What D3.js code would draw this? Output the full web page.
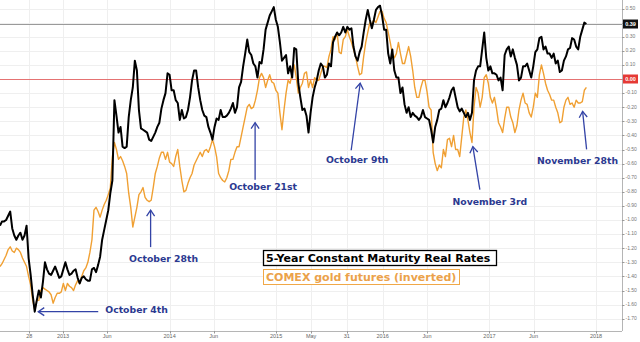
<!DOCTYPE html>
<html lang="en">
<head>
<meta charset="UTF-8">
<title>5-Year Real Rates vs COMEX Gold</title>
<script src="https://d3js.org/d3.v7.min.js"></script>
<style>
  body { margin: 0; background: #fff; }
  svg { display: block; font-family: "DejaVu Sans", Verdana, sans-serif; }
  .axis text { font-family: "Liberation Sans", Arial, sans-serif; }
</style>
</head>
<body>
<svg></svg>
<script>
// weekly observations, first week ends 2012-05-30
const startDate = new Date(2012, 4, 30);

// 5-year constant maturity real rate (%)
const realRates = [
  -1.04,-1.01,-1.01,-1.00,-0.97,-0.94,-1.06,-1.11,-1.14,-1.11,
  -1.09,-1.14,-1.11,-1.04,-1.27,-1.39,-1.53,-1.65,-1.57,-1.50,
  -1.55,-1.44,-1.30,-1.35,-1.38,-1.39,-1.36,-1.33,-1.37,-1.41,
  -1.40,-1.35,-1.30,-1.35,-1.39,-1.38,-1.36,-1.35,-1.41,-1.45,
  -1.41,-1.40,-1.42,-1.43,-1.43,-1.35,-1.34,-1.37,-1.32,-1.26,
  -1.14,-1.07,-1.00,-0.93,-0.81,-0.72,-0.15,-0.26,-0.38,-0.34,
  -0.48,-0.49,-0.48,-0.27,-0.15,-0.06,0.13,0.06,-0.22,-0.35,
  -0.36,-0.37,-0.38,-0.43,-0.44,-0.41,-0.38,-0.34,-0.31,-0.21,
  -0.15,-0.10,0.04,0.03,-0.08,-0.08,-0.15,-0.17,-0.29,-0.22,
  -0.28,-0.27,-0.22,-0.13,-0.01,0.06,0.06,-0.06,-0.15,-0.22,
  -0.26,-0.27,-0.34,-0.38,-0.43,-0.34,-0.28,-0.29,-0.22,-0.27,
  -0.27,-0.26,-0.24,-0.21,-0.17,-0.24,-0.20,-0.06,-0.02,0.09,
  0.18,0.28,0.19,0.17,0.11,0.09,0.01,0.12,0.11,0.21,
  0.35,0.40,0.45,0.48,0.51,0.42,0.37,0.26,0.13,0.15,
  0.17,0.04,0.09,0.01,0.22,0.21,-0.03,-0.13,-0.22,-0.21,
  -0.26,-0.38,-0.24,-0.13,-0.06,-0.01,0.06,0.11,0.09,0.01,
  0.03,0.11,0.09,0.26,0.30,0.33,0.31,0.33,0.37,0.33,
  0.37,0.35,0.36,0.23,0.16,0.13,0.19,0.23,0.33,0.42,
  0.49,0.42,0.36,0.42,0.49,0.51,0.52,0.45,0.35,0.35,
  0.18,0.11,0.21,0.06,0.01,0.01,-0.10,-0.06,-0.18,-0.24,
  -0.20,-0.27,-0.24,-0.26,-0.27,-0.29,-0.27,-0.22,-0.27,-0.28,
  -0.29,-0.36,-0.45,-0.34,-0.29,-0.22,-0.21,-0.15,-0.20,-0.17,
  -0.13,-0.08,-0.06,-0.13,-0.20,-0.23,-0.21,-0.24,-0.27,-0.24,
  -0.29,-0.24,-0.01,0.06,0.09,0.09,0.21,0.33,0.15,0.06,
  0.09,0.04,0.04,0.03,-0.01,0.01,-0.08,0.17,0.21,0.23,
  0.16,0.21,0.15,0.10,-0.01,0.01,0.09,0.09,0.11,0.06,
  0.01,0.09,0.19,0.21,0.29,0.30,0.21,0.23,0.18,0.18,
  0.15,0.18,0.11,0.13,0.05,0.06,0.13,0.16,0.21,0.22,
  0.29,0.28,0.23,0.21,0.30,0.35,0.40,0.39
];

// COMEX gold futures, inverted and rescaled onto the rate axis
const goldInverted = [
  -1.33,-1.31,-1.28,-1.25,-1.21,-1.19,-1.22,-1.23,-1.20,-1.21,
  -1.23,-1.27,-1.30,-1.33,-1.40,-1.46,-1.57,-1.64,-1.57,-1.57,
  -1.50,-1.48,-1.49,-1.50,-1.51,-1.53,-1.59,-1.55,-1.52,-1.52,
  -1.51,-1.45,-1.50,-1.45,-1.47,-1.48,-1.50,-1.46,-1.43,-1.45,
  -1.40,-1.36,-1.34,-1.30,-1.23,-1.14,-0.93,-0.91,-0.94,-0.98,
  -0.93,-0.89,-0.86,-0.82,-0.77,-0.55,-0.45,-0.50,-0.57,-0.55,
  -0.58,-0.62,-0.67,-0.81,-0.91,-1.05,-0.98,-0.91,-0.82,-0.80,
  -0.77,-0.84,-0.86,-0.87,-0.86,-0.77,-0.67,-0.62,-0.56,-0.52,
  -0.52,-0.57,-0.52,-0.59,-0.60,-0.62,-0.55,-0.50,-0.62,-0.72,
  -0.80,-0.79,-0.74,-0.70,-0.67,-0.61,-0.58,-0.55,-0.52,-0.55,
  -0.51,-0.50,-0.52,-0.48,-0.43,-0.48,-0.55,-0.67,-0.70,-0.72,
  -0.73,-0.70,-0.65,-0.57,-0.57,-0.52,-0.48,-0.48,-0.41,-0.34,
  -0.27,-0.20,-0.18,-0.21,-0.20,-0.15,-0.08,0.01,0.04,0.01,
  -0.06,-0.01,0.03,-0.02,-0.03,-0.08,-0.10,-0.24,-0.36,-0.22,
  -0.10,-0.01,-0.03,0.04,0.10,0.01,-0.10,-0.06,-0.03,0.04,
  0.05,-0.06,-0.01,-0.06,0.01,-0.01,-0.01,0.04,0.09,0.09,
  0.08,0.16,0.21,0.30,0.28,0.33,0.19,0.18,0.28,0.30,
  0.35,0.30,0.26,0.21,0.16,0.09,0.03,0.04,0.16,0.26,
  0.33,0.40,0.39,0.42,0.40,0.44,0.48,0.48,0.43,0.40,
  0.33,0.26,0.18,0.15,0.18,0.26,0.18,0.11,0.11,0.17,
  0.23,0.16,0.06,-0.06,-0.13,-0.13,-0.06,-0.01,-0.01,-0.09,
  -0.20,-0.22,-0.52,-0.60,-0.65,-0.61,-0.63,-0.50,-0.55,-0.43,
  -0.42,-0.48,-0.40,-0.50,-0.50,-0.55,-0.41,-0.27,-0.22,-0.29,
  -0.38,-0.45,-0.20,-0.06,-0.10,-0.20,-0.13,0.01,0.03,-0.03,
  -0.13,-0.17,-0.13,-0.21,-0.31,-0.34,-0.38,-0.28,-0.20,-0.20,
  -0.27,-0.31,-0.38,-0.33,-0.22,-0.15,-0.10,-0.17,-0.18,-0.24,
  -0.27,-0.20,-0.10,-0.13,0.03,0.10,0.04,-0.03,-0.08,-0.11,
  -0.15,-0.15,-0.20,-0.24,-0.31,-0.30,-0.20,-0.15,-0.13,-0.18,
  -0.17,-0.20,-0.15,-0.17,-0.17,-0.16,-0.08,-0.06
];

// right axis ticks (0.40 and 0.00 sit under the value tags)
const yTicks = [0.5,0.4,0.3,0.2,0.1,0,-0.1,-0.2,-0.3,-0.4,-0.5,-0.6,
  -0.7,-0.8,-0.9,-1.0,-1.1,-1.2,-1.3,-1.4,-1.5,-1.6,-1.7];
const yTickLabels = ["0.50","","0.30","0.20","0.10","","-0.10","-0.20","-0.30","-0.40",
  "-0.50","-0.60","-0.70","-0.80","-0.90","-1.00","-1.10","-1.20","-1.30","-1.40",
  "-1.50","-1.60","-1.70"];

// bottom axis ticks
const xTickDates = ["2012-09-07","2013-01-01","2013-06-01","2014-01-01","2014-06-01",
  "2015-01-01","2015-05-01","2015-08-31","2016-01-01","2016-06-01","2017-01-01",
  "2017-06-01","2018-01-01"];
const xTickLabels = ["28","2013","Jun","2014","Jun","2015","May","31","2016","Jun",
  "2017","Jun","2018"];

// annotated turning points (tip date / value)
const noteLabels = ["October 4th","October 28th","October 21st","October 9th",
  "November 3rd","November 28th"];
const noteDates = ["2012-10-08","2013-10-28","2014-10-21","2015-10-16","2016-11-05","2017-11-16"];
const noteValues = [-1.65,-0.93,-0.31,-0.03,-0.48,-0.23];

const lastRate = 0.39;

const W = 640, H = 342;
const plotW = 622, plotH = 331;
const parse = d3.timeParse("%Y-%m-%d");

const svg = d3.select("svg").attr("width", W).attr("height", H);

const x = d3.scaleTime()
  .domain([new Date(2012, 4, 30), new Date(2018, 2, 31)])
  .range([0, plotW]);
const y = d3.scaleLinear().domain([-1.7, 0.5]).range([318.7, 8.5]);

const rateSeries = realRates.map((v, i) => ({ date: d3.timeDay.offset(startDate, 7 * i), value: v }));
const goldSeries = goldInverted.map((v, i) => ({ date: d3.timeDay.offset(startDate, 7 * i), value: v }));

// grid
svg.append("g").selectAll("line").data(yTicks).join("line")
  .attr("x1", 0).attr("x2", plotW)
  .attr("y1", d => Math.round(y(d)) + 0.5).attr("y2", d => Math.round(y(d)) + 0.5)
  .attr("stroke", "#efefef");
svg.append("g").selectAll("line").data(xTickDates).join("line")
  .attr("x1", d => Math.round(x(parse(d))) + 0.5).attr("x2", d => Math.round(x(parse(d))) + 0.5)
  .attr("y1", 0).attr("y2", plotH)
  .attr("stroke", "#efefef");

// reference lines: latest value and zero
svg.append("line")
  .attr("x1", 0).attr("x2", plotW)
  .attr("y1", Math.round(y(lastRate)) + 0.5).attr("y2", Math.round(y(lastRate)) + 0.5)
  .attr("stroke", "#9a9a9a");
svg.append("line")
  .attr("x1", 0).attr("x2", plotW)
  .attr("y1", Math.round(y(0)) + 0.5).attr("y2", Math.round(y(0)) + 0.5)
  .attr("stroke", "#e57373");

// series
const line = d3.line().x(d => x(d.date)).y(d => y(d.value));
svg.append("path").datum(goldSeries)
  .attr("d", line).attr("fill", "none")
  .attr("stroke", "#f0a033").attr("stroke-width", 1.4).attr("stroke-linejoin", "round");
svg.append("path").datum(rateSeries)
  .attr("d", line).attr("fill", "none")
  .attr("stroke", "#000").attr("stroke-width", 2).attr("stroke-linejoin", "round");

// axes frame
svg.append("line").attr("x1", plotW + 0.5).attr("x2", plotW + 0.5).attr("y1", 0).attr("y2", plotH)
  .attr("stroke", "#b5b5b5");
svg.append("line").attr("x1", 0).attr("x2", plotW).attr("y1", plotH + 0.5).attr("y2", plotH + 0.5)
  .attr("stroke", "#b5b5b5");

// right axis
const yAxis = svg.append("g").attr("class", "axis");
yAxis.selectAll("line").data(yTicks).join("line")
  .attr("x1", plotW).attr("x2", plotW + 2.5)
  .attr("y1", d => Math.round(y(d)) + 0.5).attr("y2", d => Math.round(y(d)) + 0.5)
  .attr("stroke", "#999");
yAxis.selectAll("text").data(yTicks).join("text")
  .attr("x", plotW + 3.5).attr("y", d => y(d))
  .attr("dominant-baseline", "middle")
  .attr("font-size", 5).attr("fill", "#777")
  .text((d, i) => yTickLabels[i]);

// value tags
function tag(v, bg) {
  const g = svg.append("g").attr("class", "axis").attr("transform", `translate(${plotW + 1},${y(v)})`);
  g.append("rect").attr("x", 0).attr("y", -4.5).attr("width", 15).attr("height", 9).attr("fill", bg);
  g.append("text").attr("x", 7.5).attr("y", 0.3)
    .attr("text-anchor", "middle").attr("dominant-baseline", "middle")
    .attr("font-size", 5.5).attr("font-weight", "bold").attr("fill", "#fff")
    .text(d3.format(".2f")(v));
}
tag(lastRate, "#111");
tag(0, "#e53935");

// bottom axis
const xAxis = svg.append("g").attr("class", "axis");
xAxis.selectAll("line").data(xTickDates).join("line")
  .attr("x1", d => Math.round(x(parse(d))) + 0.5).attr("x2", d => Math.round(x(parse(d))) + 0.5)
  .attr("y1", plotH).attr("y2", plotH + 2.5)
  .attr("stroke", "#999");
xAxis.selectAll("text").data(xTickDates).join("text")
  .attr("x", d => x(parse(d))).attr("y", plotH + 6)
  .attr("text-anchor", "middle").attr("dominant-baseline", "middle")
  .attr("font-size", 5.5).attr("fill", "#666")
  .text((d, i) => xTickLabels[i]);

// legend
const legend = svg.append("g").attr("transform", "translate(263,250)");
legend.append("rect").attr("x", 0.5).attr("y", 0.5).attr("width", 233).attr("height", 15)
  .attr("fill", "#fff").attr("stroke", "#000").attr("stroke-width", 1.3);
legend.append("text").attr("x", 3).attr("y", 8.5).attr("dominant-baseline", "middle")
  .attr("font-size", 11).attr("font-weight", "bold").attr("fill", "#000")
  .text("5-Year Constant Maturity Real Rates");
legend.append("rect").attr("x", 0.5).attr("y", 19.5).attr("width", 196).attr("height", 15)
  .attr("fill", "#fff").attr("stroke", "#f0a848").attr("stroke-width", 1);
legend.append("text").attr("x", 3).attr("y", 27.5).attr("dominant-baseline", "middle")
  .attr("font-size", 11).attr("font-weight", "bold").attr("fill", "#eba24a")
  .text("COMEX gold futures (inverted)");

// annotations: arrow from tail to tip, label placed off the tail
const arrowColor = "#3343a6";
svg.append("defs").append("marker")
  .attr("id", "head").attr("viewBox", "-8 -5 10 10")
  .attr("refX", 0).attr("refY", 0)
  .attr("markerWidth", 10).attr("markerHeight", 10)
  .attr("markerUnits", "userSpaceOnUse").attr("orient", "auto")
  .append("path").attr("d", "M-6,-4L0,0L-6,4")
  .attr("fill", "none").attr("stroke", arrowColor).attr("stroke-width", 1.3);

const layout = [
  { dx: 60, dy: 0, tx: 7, ty: -1, anchor: "start" },
  { dx: 0, dy: 37, tx: 13, ty: 12, anchor: "middle" },
  { dx: 0, dy: 57, tx: 8, ty: 8, anchor: "middle" },
  { dx: -9, dy: 67, tx: 6, ty: 10, anchor: "middle" },
  { dx: 7, dy: 43, tx: 10, ty: 13, anchor: "middle" },
  { dx: 4, dy: 38, tx: -9, ty: 12, anchor: "middle" }
];

const notes = svg.append("g");
noteLabels.forEach((label, i) => {
  const px = x(parse(noteDates[i])), py = y(noteValues[i]);
  const L = layout[i];
  const tx0 = px + L.dx, ty0 = py + L.dy;
  notes.append("line")
    .attr("x1", tx0).attr("y1", ty0).attr("x2", px).attr("y2", py)
    .attr("stroke", arrowColor).attr("stroke-width", 1.3)
    .attr("marker-end", "url(#head)");
  notes.append("text")
    .attr("x", tx0 + L.tx).attr("y", ty0 + L.ty)
    .attr("text-anchor", L.anchor).attr("dominant-baseline", "middle")
    .attr("font-size", 9.3).attr("font-weight", "bold").attr("fill", "#2b3990")
    .text(label);
});
</script>
</body>
</html>
